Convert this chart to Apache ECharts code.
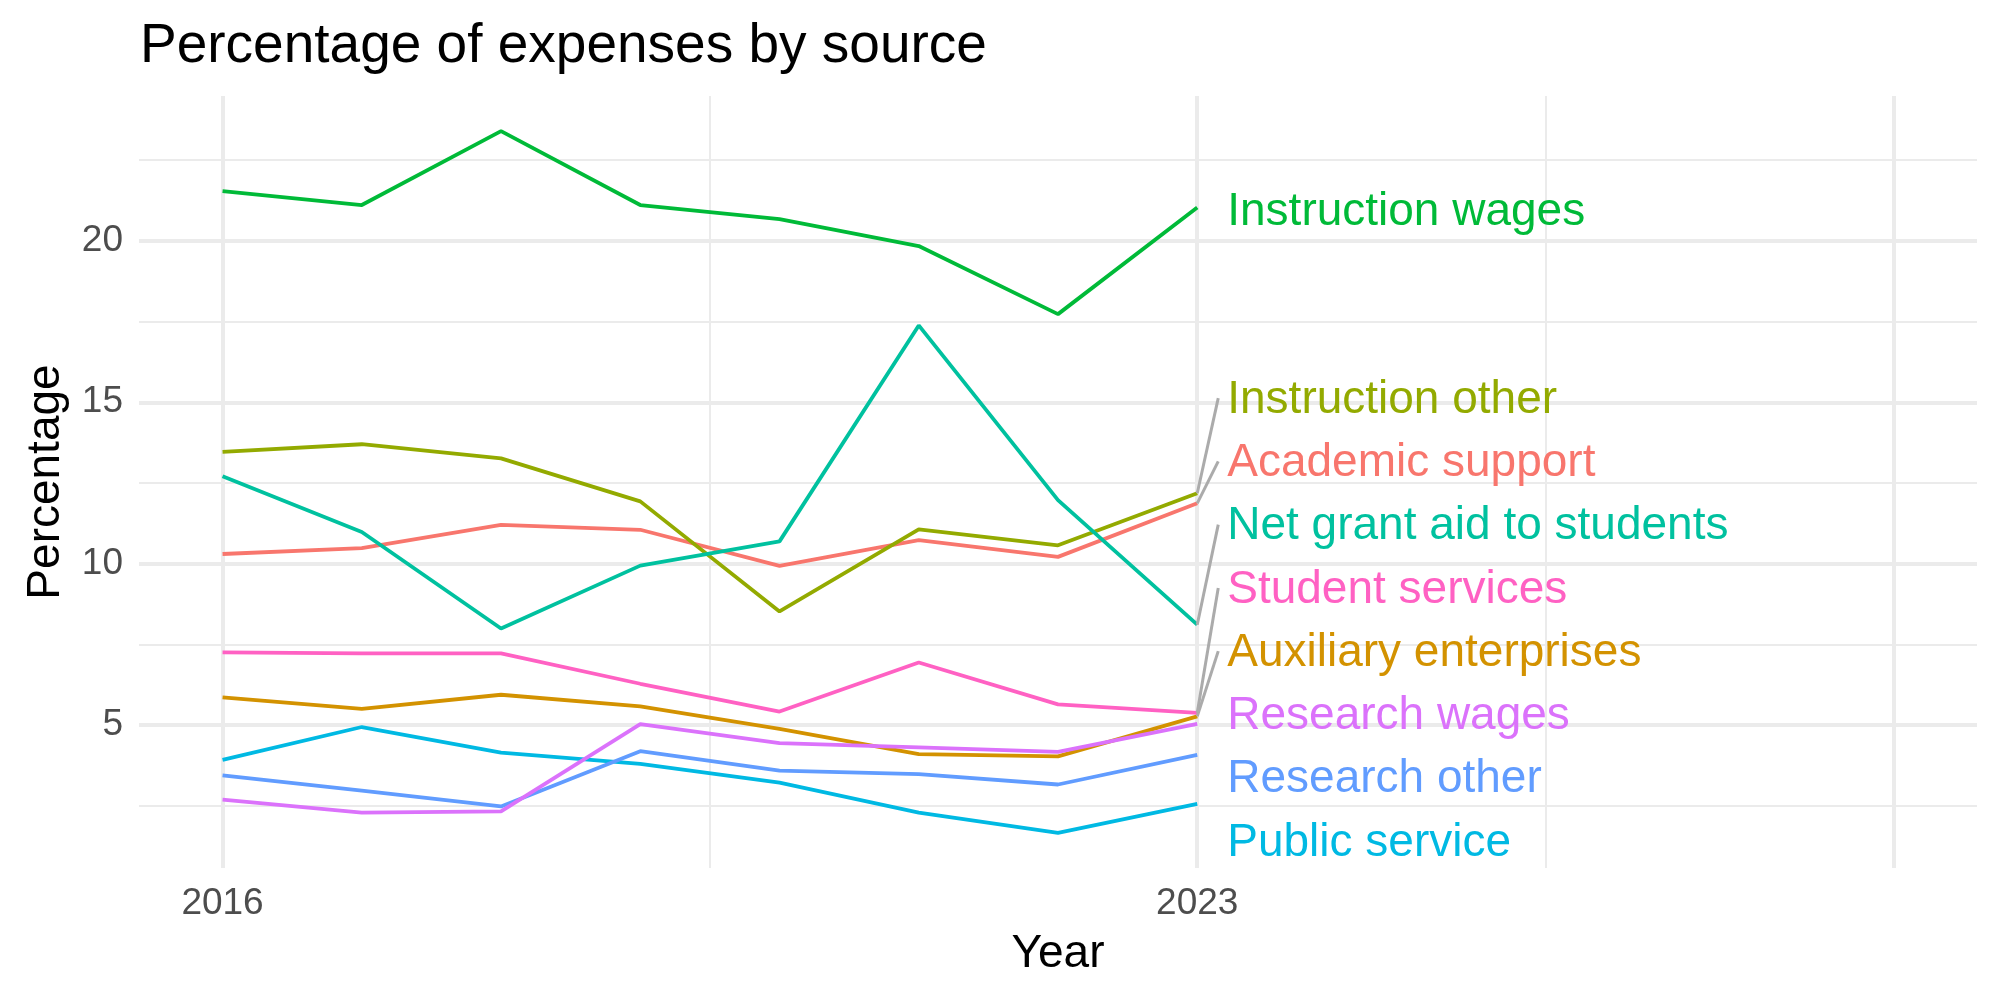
<!DOCTYPE html>
<html>
<head>
<meta charset="utf-8">
<script src="https://cdn.jsdelivr.net/npm/echarts@6/dist/echarts.min.js"></script>
<style>
html, body { margin: 0; padding: 0; background: #fff; }
#main { width: 2000px; height: 1000px; }
</style>
</head>
<body>
<div id="main"></div>
<script>
var years = [2016, 2017, 2018, 2019, 2020, 2021, 2022, 2023];
var sources = ['Academic support', 'Auxiliary enterprises', 'Instruction other', 'Instruction wages',
	'Net grant aid to students', 'Public service', 'Research other', 'Research wages', 'Student services'];

var academicSupport = [10.30, 10.48, 11.20, 11.05, 9.93, 10.73, 10.21, 11.87];
var auxiliaryEnterprises = [5.86, 5.50, 5.94, 5.58, 4.88, 4.10, 4.03, 5.27];
var instructionOther = [13.46, 13.70, 13.26, 11.93, 8.52, 11.06, 10.57, 12.18];
var instructionWages = [21.54, 21.11, 23.40, 21.11, 20.67, 19.84, 17.73, 21.03];
var netGrantAid = [12.71, 10.98, 7.99, 9.94, 10.69, 17.38, 11.97, 8.11];
var publicService = [3.92, 4.94, 4.15, 3.80, 3.22, 2.29, 1.66, 2.56];
var researchOther = [3.44, 2.97, 2.48, 4.19, 3.59, 3.48, 3.16, 4.08];
var researchWages = [2.69, 2.29, 2.33, 5.03, 4.44, 4.31, 4.17, 5.04];
var studentServices = [7.25, 7.22, 7.22, 6.28, 5.42, 6.94, 5.64, 5.38];

// ggplot hue palette, 9 levels
var colors = ['#F8766D', '#D39200', '#93AA00', '#00BA38', '#00C19F', '#00B9E3', '#619CFF', '#DB72FB', '#FF61C3'];

var xLimits = [2016, 2028];
var xBreaks = [2016, 2023, 2028];
var xLabels = [2016, 2023];
var yBreaks = [5, 10, 15, 20];

var values = [academicSupport, auxiliaryEnterprises, instructionOther, instructionWages,
	netGrantAid, publicService, researchOther, researchWages, studentServices];

var FONT = '"Liberation Sans", Arial, Helvetica, sans-serif';
var GRID = '#EBEBEB';

// ggplot style 5% expansion
var allVals = [].concat.apply([], values);
var dMin = Math.min.apply(null, allVals), dMax = Math.max.apply(null, allVals);
var yMin = dMin - 0.05 * (dMax - dMin);
var yMax = dMax + 0.05 * (dMax - dMin);
var xMin = xLimits[0] - 0.05 * (xLimits[1] - xLimits[0]);
var xMax = xLimits[1] + 0.05 * (xLimits[1] - xLimits[0]);

var xMinor = [];
for (var i = 1; i < xBreaks.length; i++) xMinor.push((xBreaks[i - 1] + xBreaks[i]) / 2);
var yMinor = [yBreaks[0] - 2.5];
yBreaks.forEach(function (b) { yMinor.push(b + 2.5); });

// simple repel: keep the end labels apart, stay inside the panel
function repel(vals, gap, lo, hi) {
	var idx = vals.map(function (v, i) { return i; }).sort(function (a, b) { return vals[a] - vals[b]; });
	var pos = idx.map(function (i) { return vals[i]; });
	for (var it = 0; it < 2000; it++) {
		for (var k = 1; k < pos.length; k++) {
			var d = pos[k] - pos[k - 1];
			if (d < gap) {
				var s = (gap - d) / 2;
				pos[k] += s;
				pos[k - 1] -= s;
			}
		}
		for (k = 0; k < pos.length; k++) pos[k] = Math.min(hi, Math.max(lo, pos[k]));
	}
	var out = [];
	idx.forEach(function (i, k) { out[i] = pos[k]; });
	return out;
}

var lastYear = years[years.length - 1];
var endVals = values.map(function (v) { return v[v.length - 1]; });
var labelY = repel(endVals, 1.96, yMin + 0.93, yMax - 0.93);

var gridLines = [];
xBreaks.forEach(function (b) { gridLines.push({ xAxis: b, lineStyle: { color: GRID, width: 4, type: 'solid' } }); });
xMinor.forEach(function (b) { gridLines.push({ xAxis: b, lineStyle: { color: GRID, width: 2, type: 'solid' } }); });
yBreaks.forEach(function (b) { gridLines.push({ yAxis: b, lineStyle: { color: GRID, width: 4, type: 'solid' } }); });
yMinor.forEach(function (b) {
	if (b > yMin && b < yMax) gridLines.push({ yAxis: b, lineStyle: { color: GRID, width: 2, type: 'solid' } });
});

var series = [{
	name: 'grid',
	type: 'line',
	data: [[xBreaks[0], yBreaks[0]]],
	showSymbol: false,
	lineStyle: { opacity: 0 },
	silent: true,
	z: 0,
	markLine: {
		silent: true,
		z: 0,
		symbol: ['none', 'none'],
		label: { show: false },
		emphasis: { disabled: true },
		data: gridLines
	}
}];

sources.forEach(function (name, i) {
	series.push({
		name: name,
		type: 'line',
		data: years.map(function (y, j) { return [y, values[i][j]]; }),
		showSymbol: false,
		lineStyle: { color: colors[i], width: 3.8 },
		itemStyle: { color: colors[i] },
		z: 2
	});
});

series.push({
	name: 'labels',
	type: 'custom',
	z: 3,
	data: sources.map(function (n, i) { return [lastYear, endVals[i]]; }),
	renderItem: function (params, api) {
		var i = params.dataIndex;
		var p0 = api.coord([lastYear, endVals[i]]);
		var p1 = api.coord([lastYear, labelY[i]]);
		var children = [];
		if (Math.abs(labelY[i] - endVals[i]) > 1.2) {
			children.push({
				type: 'line',
				shape: { x1: p0[0], y1: p0[1], x2: p1[0] + 21, y2: p1[1] + 3 },
				style: { stroke: '#ABABAB', lineWidth: 3 }
			});
		}
		children.push({
			type: 'text',
			x: p1[0] + 30,
			y: p1[1] + 5,
			style: {
				text: sources[i],
				fill: colors[i],
				font: '46px ' + FONT,
				align: 'left',
				verticalAlign: 'middle'
			}
		});
		return { type: 'group', children: children };
	}
});

function plainNum(v) { return String(Math.round(v)); }

var option = {
	backgroundColor: '#ffffff',
	animation: false,
	title: {
		text: 'Percentage of expenses by source',
		left: 140,
		top: 19,
		padding: 0,
		textStyle: { color: '#000', fontSize: 55, fontWeight: 'normal', fontFamily: FONT }
	},
	grid: { left: 139, right: 23, top: 96, bottom: 132 },
	xAxis: {
		type: 'value',
		min: xMin,
		max: xMax,
		name: 'Year',
		nameLocation: 'middle',
		nameGap: 63,
		nameTextStyle: { color: '#000', fontSize: 46, fontFamily: FONT },
		axisLine: { show: false },
		axisTick: { show: false },
		splitLine: { show: false },
		axisLabel: {
			customValues: xLabels,
			formatter: plainNum,
			margin: 17,
			color: '#4D4D4D',
			fontSize: 37,
			fontFamily: FONT
		}
	},
	yAxis: {
		type: 'value',
		min: yMin,
		max: yMax,
		name: 'Percentage',
		nameLocation: 'middle',
		nameGap: 70,
		nameTextStyle: { color: '#000', fontSize: 46, fontFamily: FONT },
		axisLine: { show: false },
		axisTick: { show: false },
		splitLine: { show: false },
		axisLabel: {
			customValues: yBreaks,
			formatter: plainNum,
			margin: 16,
			color: '#4D4D4D',
			fontSize: 37,
			fontFamily: FONT
		}
	},
	series: series
};

var myChart = echarts.init(document.getElementById('main'));
myChart.setOption(option);
</script>
</body>
</html>
